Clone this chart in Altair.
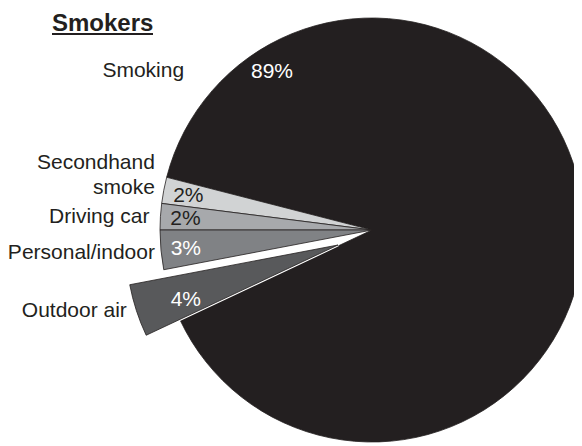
import math
import altair as alt
import pandas as pd

# ---- data ----
categories = ["Smoking", "Secondhand smoke", "Driving car", "Personal/indoor", "Outdoor air"]
labels = ["Smoking", "Secondhand\nsmoke", "Driving car", "Personal/indoor", "Outdoor air"]
shares = [89, 2, 2, 3, 4]
clockwise_order = [5, 4, 3, 2, 1]
colors = ["#231f20", "#d1d3d4", "#a7a9ac", "#808285", "#58595b"]
title_text = "Smokers"

# ---- layout ----
W, H = 566, 438
CX, CY = 364, 222          # pie centre
EX, EY = 330, 237          # centre of the pulled-out slice
R = 212
START = math.radians(244.8)
FONT = "Liberation Sans"
INK = "#231f20"

df = pd.DataFrame({"category": categories, "label": labels,
                   "share": shares, "order": clockwise_order})

base = alt.Chart(df).transform_window(
    cum="sum(share)", sort=[alt.SortField("order")]
).transform_calculate(
    start="datum.cum - datum.share",
    mid="datum.cum - datum.share / 2",
    pct="datum.share + '%'",
)

theta_scale = alt.Scale(domain=[0, 100], range=[START, START + 2 * math.pi])
color_enc = alt.Color("category:N", scale=alt.Scale(domain=categories, range=colors), legend=None)

main = alt.datum.category != "Outdoor air"
out = alt.datum.category == "Outdoor air"
small = alt.FieldOneOfPredicate(field="category", oneOf=["Secondhand smoke", "Driving car", "Personal/indoor"])

arcs = base.transform_filter(main).mark_arc(radius=R, stroke=INK, strokeWidth=0.8).encode(
    theta=alt.Theta("start:Q", scale=theta_scale), theta2="cum:Q", color=color_enc,
    x=alt.value(CX), y=alt.value(CY))

halo = base.transform_filter(out).mark_arc(radius=R, stroke="white", strokeWidth=3).encode(
    theta=alt.Theta("start:Q", scale=theta_scale), theta2="cum:Q", color=color_enc,
    x=alt.value(EX), y=alt.value(EY))

arc_out = base.transform_filter(out).mark_arc(radius=R, stroke=INK, strokeWidth=0.8).encode(
    theta=alt.Theta("start:Q", scale=theta_scale), theta2="cum:Q", color=color_enc,
    x=alt.value(EX), y=alt.value(EY))

txt_color = alt.condition(
    alt.FieldOneOfPredicate(field="category", oneOf=["Secondhand smoke", "Driving car"]),
    alt.value(INK), alt.value("white"))

pct_small = base.transform_filter(small).mark_text(radius=187, font=FONT, fontSize=21, dy=1).encode(
    theta=alt.Theta("mid:Q", scale=theta_scale), text="pct:N", color=txt_color,
    x=alt.value(CX), y=alt.value(CY))

pct_out = base.transform_filter(out).mark_text(radius=160, font=FONT, fontSize=21, dy=6).encode(
    theta=alt.Theta("mid:Q", scale=theta_scale), text="pct:N", color=txt_color,
    x=alt.value(EX), y=alt.value(EY))

pct_smoke = base.transform_filter(alt.datum.category == "Smoking").mark_text(
    theta=5.719, radius=187, font=FONT, fontSize=21).encode(
    text="pct:N", color=txt_color, x=alt.value(CX), y=alt.value(CY))

lab_drive = base.transform_filter(alt.datum.category == "Driving car").mark_text(
    radius=223, align="right", font=FONT, fontSize=21, color=INK, dy=1).encode(
    theta=alt.Theta("mid:Q", scale=theta_scale), text="label:N",
    x=alt.value(CX), y=alt.value(CY))

lab_pers = base.transform_filter(alt.datum.category == "Personal/indoor").mark_text(
    radius=218, align="right", font=FONT, fontSize=21, color=INK, dy=2).encode(
    theta=alt.Theta("mid:Q", scale=theta_scale), text="label:N",
    x=alt.value(CX), y=alt.value(CY))

lab_sh = base.transform_filter(alt.datum.category == "Secondhand smoke").mark_text(
    radius=221, align="right", font=FONT, fontSize=21, color=INK, dy=-26,
    lineBreak="\n", lineHeight=25).encode(
    theta=alt.Theta("mid:Q", scale=theta_scale), text="label:N",
    x=alt.value(CX), y=alt.value(CY))

lab_out = base.transform_filter(out).mark_text(
    radius=222, align="right", font=FONT, fontSize=21, color=INK, dy=-3).encode(
    theta=alt.Theta("mid:Q", scale=theta_scale), text="label:N",
    x=alt.value(EX), y=alt.value(EY))

lab_smoke = base.transform_filter(alt.datum.category == "Smoking").mark_text(
    theta=5.414, radius=246, align="right", font=FONT, fontSize=21, color=INK).encode(
    text="label:N", x=alt.value(CX), y=alt.value(CY))

title_df = pd.DataFrame({"t": [title_text]})
title = alt.Chart(title_df).mark_text(
    align="left", baseline="alphabetic", font=FONT, fontSize=24, fontWeight="bold", color=INK
).encode(text="t:N", x=alt.value(44), y=alt.value(23))
underline = alt.Chart(title_df).mark_rule(color=INK, strokeWidth=2).encode(
    x=alt.value(44), x2=alt.value(145), y=alt.value(26))

chart = alt.layer(
    arcs, halo, arc_out, pct_small, pct_out, pct_smoke,
    lab_drive, lab_pers, lab_sh, lab_out, lab_smoke, title, underline
).properties(
    width=W, height=H, padding=0, autosize=alt.AutoSizeParams(type="none")
).configure_view(strokeWidth=0)

chart.save("out.html", embed_options={"renderer": "svg", "actions": False})
